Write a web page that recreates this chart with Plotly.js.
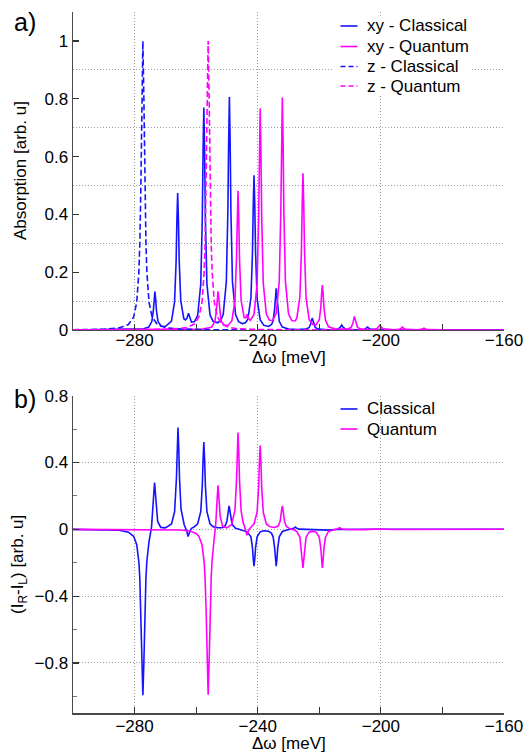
<!DOCTYPE html>
<html>
<head>
<meta charset="utf-8">
<script src="https://cdn.plot.ly/plotly-3.0.1.min.js"></script>
<style>html,body{margin:0;padding:0;background:#fff;}#chart{width:525px;height:754px;}</style>
</head>
<body>
<div id="chart"></div>
<script>
// ---- Panel a) absorption ----
const xyClassicalX = [-300, -285, -280, -277, -275.4, -274.4, -273.9, -273.65, -273.4, -273.15,
  -272.9, -272.4, -271.4, -270, -268, -267, -266.5, -266.25, -266, -265.75,
  -265.5, -265, -264, -263.5, -263, -262.5, -262, -261.5, -260.5, -259.5,
  -258.5, -258, -257.75, -257.5, -257.25, -257, -256.5, -255.5, -254.5, -253,
  -252, -251.2, -250.2, -249.7, -249.45, -249.2, -248.95, -248.7, -248.2, -247.2,
  -246.2, -245, -244, -243.2, -242.2, -241.7, -241.45, -241.2, -240.95, -240.7,
  -240.2, -239.2, -238, -236.5, -235.5, -235, -234.5, -234.25, -234, -233.75,
  -233.5, -233, -232, -230, -227, -224.3, -223.3, -222.8, -222.3, -221.8,
  -221.3, -220.3, -217, -214, -213.2, -212.7, -212.2, -211.4, -208, -205.3,
  -204.8, -204.3, -203.8, -203.3, -195, -160];
const xyClassicalY = [0, 0.001, 0.002, 0.004, 0.010, 0.029, 0.068, 0.107, 0.133, 0.107,
  0.068, 0.030, 0.013, 0.012, 0.031, 0.098, 0.239, 0.380, 0.474, 0.380,
  0.239, 0.101, 0.039, 0.035, 0.040, 0.058, 0.038, 0.027, 0.029, 0.051,
  0.158, 0.388, 0.617, 0.770, 0.617, 0.388, 0.159, 0.052, 0.030, 0.025,
  0.033, 0.054, 0.166, 0.405, 0.645, 0.806, 0.645, 0.406, 0.166, 0.053,
  0.029, 0.022, 0.025, 0.037, 0.111, 0.270, 0.429, 0.535, 0.429, 0.270,
  0.109, 0.035, 0.016, 0.012, 0.019, 0.032, 0.073, 0.115, 0.144, 0.115,
  0.073, 0.030, 0.010, 0.0035, 0.0017, 0.003, 0.0085, 0.0205, 0.041, 0.0205,
  0.0085, 0.0028, 0.001, 0.0025, 0.009, 0.017, 0.009, 0.0025, 0.0007, 0.002,
  0.005, 0.010, 0.005, 0.002, 0.0002, 0];

const xyQuantumX = [-300, -280, -265, -258, -255, -253.9, -253.4, -253.15, -252.9, -252.65,
  -252.4, -251.9, -250.9, -249.5, -248.4, -247.4, -246.9, -246.65, -246.4, -246.15,
  -245.9, -245.4, -244.4, -243.9, -243.4, -242.9, -242.4, -241.2, -240.2, -239.7,
  -239.45, -239.2, -238.95, -238.7, -238.2, -237.2, -236.2, -235.2, -234, -233,
  -232.5, -232.25, -232, -231.75, -231.5, -231, -230, -229, -228.5, -227.8,
  -227.3, -226.3, -225.8, -225.55, -225.3, -225.05, -224.8, -224.3, -223.3, -222,
  -221, -220, -219.5, -219.25, -219, -218.75, -218.5, -218, -217, -215,
  -212, -210.6, -209.6, -209.1, -208.6, -208.1, -207.6, -206.6, -203, -201.3,
  -200.8, -200.3, -199.8, -199.3, -196, -194, -193.5, -193, -192.5, -192,
  -188, -187, -186.5, -186, -185.5, -185, -180, -160];
const xyQuantumY = [0, 0.0004, 0.001, 0.003, 0.0096, 0.029, 0.069, 0.108, 0.134, 0.108,
  0.070, 0.030, 0.016, 0.017, 0.032, 0.100, 0.243, 0.385, 0.482, 0.385,
  0.243, 0.103, 0.043, 0.042, 0.054, 0.039, 0.033, 0.054, 0.160, 0.387,
  0.615, 0.766, 0.615, 0.387, 0.161, 0.055, 0.034, 0.032, 0.057, 0.168,
  0.406, 0.645, 0.804, 0.645, 0.406, 0.168, 0.056, 0.034, 0.031, 0.032,
  0.041, 0.114, 0.274, 0.434, 0.542, 0.434, 0.274, 0.112, 0.036, 0.018,
  0.018, 0.036, 0.080, 0.125, 0.155, 0.125, 0.080, 0.034, 0.011, 0.004,
  0.0024, 0.0035, 0.0097, 0.023, 0.047, 0.023, 0.0097, 0.003, 0.0008, 0.004,
  0.009, 0.017, 0.009, 0.004, 0.0007, 0.002, 0.005, 0.010, 0.005, 0.002,
  0.0004, 0.0012, 0.003, 0.006, 0.003, 0.0012, 0.0002, 0];

const zClassicalX = [-300, -290, -285, -282, -280.3, -279.3, -278.6, -278.3, -277.95, -277.625,
  -277.3, -276.975, -276.65, -276.3, -276, -275.3, -274.3, -272.6, -269.6, -265,
  -255, -240, -160];
const zClassicalY = [0.0008, 0.0026, 0.0071, 0.0188, 0.045, 0.0955, 0.2, 0.297, 0.5, 0.8,
  1.0, 0.8, 0.5, 0.297, 0.2, 0.0955, 0.045, 0.0188, 0.0071, 0.0028,
  0.0008, 0.0003, 0];

const zQuantumX = [-300, -280, -270, -265, -263, -260.6, -259.1, -258.1, -257.4, -257.1,
  -256.75, -256.425, -256.1, -255.775, -255.45, -255.1, -254.8, -254.1, -253.1, -251.6,
  -249.2, -247.2, -242, -230, -160];
const zQuantumY = [0.0002, 0.0007, 0.0022, 0.0053, 0.0088, 0.0204, 0.0448, 0.0955, 0.2, 0.297,
  0.5, 0.8, 1.0, 0.8, 0.5, 0.297, 0.2, 0.0955, 0.0448, 0.0204,
  0.0088, 0.0053, 0.0021, 0.0006, 0];

// ---- Panel b) circular dichroism ----
const cdClassicalX = [-300, -290, -285, -282, -280.3, -279.3, -278.6, -278.3, -277.95, -277.625,
  -277.3, -276.975, -276.65, -276.3, -276, -275.3, -274.5, -274, -273.75, -273.5,
  -273.25, -273, -272.5, -271.5, -270, -268, -267, -266.4, -266.15, -265.9,
  -265.65, -265.4, -264.9, -263.9, -263.1, -262.6, -262.1, -261.6, -260.5, -259.5,
  -258.5, -258, -257.75, -257.5, -257.25, -257, -256.5, -255.5, -254.5, -253,
  -251.5, -250.5, -250, -249.55, -249.3, -249.05, -248.8, -248.3, -247.3, -246,
  -245, -243.5, -242.2, -241.7, -241.45, -241.2, -240.95, -240.7, -240.2, -239.2,
  -238, -236.5, -235.5, -235, -234.5, -234.25, -234, -233.75, -233.5, -233,
  -232, -230.5, -229, -228.3, -227.8, -227.3, -226.5, -224, -220, -218,
  -217.5, -217, -215, -205, -204.3, -203.6, -160];
const cdClassicalY = [-0.0005, -0.002, -0.006, -0.017, -0.042, -0.092, -0.196, -0.293, -0.496, -0.796,
  -0.994, -0.794, -0.49, -0.287, -0.188, -0.072, 0.012, 0.117, 0.215, 0.280,
  0.222, 0.133, 0.047, 0.0115, 0.0085, 0.032, 0.105, 0.306, 0.493, 0.609,
  0.488, 0.305, 0.12, 0.029, -0.009, -0.043, -0.015, 0.004, 0.016, 0.033,
  0.106, 0.262, 0.418, 0.522, 0.418, 0.262, 0.106, 0.033, 0.016, 0.0095,
  0.010, 0.023, 0.049, 0.114, 0.141, 0.113, 0.071, 0.028, 0.008, 0.0015,
  -0.006, -0.015, -0.045, -0.111, -0.177, -0.221, -0.177, -0.111, -0.045, -0.015,
  -0.0086, -0.011, -0.024, -0.045, -0.111, -0.177, -0.221, -0.177, -0.111, -0.045,
  -0.013, -0.004, 0, 0.006, 0.014, 0.006, 0.001, -0.001, -0.002, -0.005,
  -0.008, -0.005, -0.001, 0, 0.004, 0, 0];

const cdQuantumX = [-300, -280, -270, -265, -262, -260, -259.1, -258.1, -257.4, -257.1,
  -256.75, -256.425, -256.1, -255.775, -255.45, -255.1, -254.8, -254.1, -253.6, -253.2,
  -252.9, -252.6, -252.2, -251.4, -250, -248.5, -247.4, -246.9, -246.65, -246.4,
  -246.15, -245.9, -245.4, -244.8, -244.2, -243.8, -243.5, -243.2, -242.8, -242,
  -241.2, -240.2, -239.7, -239.45, -239.2, -238.95, -238.7, -238.2, -237.2, -236,
  -234.5, -233.3, -232.7, -232.25, -232, -231.75, -231.3, -230.7, -229.5, -228,
  -227.3, -226.3, -225.8, -225.55, -225.3, -225.05, -224.8, -224.3, -223.3, -222.2,
  -221, -220, -219.5, -219.25, -219, -218.75, -218.5, -218, -217, -215.5,
  -214.2, -213.4, -212.6, -211, -205, -200.8, -196, -160];
const cdQuantumY = [-0.0002, -0.0005, -0.0014, -0.0042, -0.0105, -0.0243, -0.042, -0.092, -0.195, -0.292,
  -0.494, -0.793, -0.991, -0.79, -0.487, -0.281, -0.179, -0.049, 0.041, 0.176,
  0.264, 0.191, 0.078, 0.017, 0.0087, 0.028, 0.113, 0.287, 0.461, 0.579,
  0.463, 0.289, 0.112, 0.045, 0.012, -0.018, -0.036, -0.022, 0.0002, 0.017,
  0.032, 0.103, 0.253, 0.403, 0.501, 0.401, 0.251, 0.102, 0.032, 0.015,
  0.011, 0.021, 0.049, 0.114, 0.141, 0.113, 0.048, 0.017, 0.003, -0.0053,
  -0.013, -0.046, -0.116, -0.185, -0.231, -0.185, -0.116, -0.047, -0.017, -0.011,
  -0.017, -0.048, -0.117, -0.186, -0.231, -0.185, -0.116, -0.047, -0.013, -0.004,
  0.001, 0.010, 0.001, -0.001, -0.002, 0.002, -0.001, 0];

const topNames = ['xy - Classical', 'xy - Quantum', 'z - Classical', 'z - Quantum'];
const bottomNames = ['Classical', 'Quantum'];

const BLUE = '#1414ff', MAGENTA = '#ff00ff';
const LW = 1.6;
const DASH = '6px,3px';

const traces = [
  {x: xyClassicalX, y: xyClassicalY, name: topNames[0], xaxis: 'x', yaxis: 'y',
   mode: 'lines', line: {color: BLUE, width: LW}},
  {x: xyQuantumX, y: xyQuantumY, name: topNames[1], xaxis: 'x', yaxis: 'y',
   mode: 'lines', line: {color: MAGENTA, width: LW}},
  {x: zClassicalX, y: zClassicalY, name: topNames[2], xaxis: 'x', yaxis: 'y',
   mode: 'lines', line: {color: BLUE, width: LW, dash: DASH}},
  {x: zQuantumX, y: zQuantumY, name: topNames[3], xaxis: 'x', yaxis: 'y',
   mode: 'lines', line: {color: MAGENTA, width: LW, dash: DASH}},
  {x: cdClassicalX, y: cdClassicalY, name: bottomNames[0], xaxis: 'x2', yaxis: 'y2',
   mode: 'lines', line: {color: BLUE, width: LW}},
  {x: cdQuantumX, y: cdQuantumY, name: bottomNames[1], xaxis: 'x2', yaxis: 'y2',
   mode: 'lines', line: {color: MAGENTA, width: LW}}
];

const FONT = 'Liberation Sans, Arial, Helvetica, sans-serif';
const AXC = '#4a4a4a';
const GRIDC = '#9c9c9c';
const GDASH = '1px,2px';
const TXT = {size: 17, color: '#000', family: FONT};

function xAxis(anchor, standoff) {
  return {
    anchor: anchor, domain: [0, 1], range: [-300, -160],
    tickmode: 'linear', tick0: -280, dtick: 40,
    ticks: 'inside', ticklen: 6, tickwidth: 1.2, tickcolor: '#333',
    ticklabelstandoff: standoff,
    showline: true, linecolor: AXC, linewidth: 1.5, mirror: false,
    showgrid: true, gridcolor: GRIDC, gridwidth: 1, griddash: GDASH,
    zeroline: false,
    minor: {tick0: -300, dtick: 20, ticks: 'inside', ticklen: 6, tickwidth: 1.2, tickcolor: '#333', showgrid: false},
    tickfont: TXT
  };
}

// pixel helpers for layout-only placement (plot area: x 73..504, y 12..713)
const px2paperX = p => (p - 73) / 431;
const px2paperY = p => (713 - p) / 701;

// custom legends (layout decorations)
const legendTop = {rows: [26, 46.5, 66.5, 86], traces: [0, 1, 2, 3]};
const legendBottom = {rows: [409, 429], traces: [4, 5]};

const shapes = [
  // white backing behind the top legend (hides gridlines, like the original)
  {type: 'rect', xref: 'paper', yref: 'paper', layer: 'above',
   x0: px2paperX(333), x1: px2paperX(472), y0: px2paperY(96), y1: px2paperY(16),
   fillcolor: '#ffffff', line: {width: 0}}
];
const annotations = [];
[legendTop, legendBottom].forEach(lg => {
  lg.rows.forEach((py, i) => {
    const t = traces[lg.traces[i]];
    shapes.push({type: 'line', xref: 'paper', yref: 'paper', layer: 'above',
      x0: px2paperX(340.5), x1: px2paperX(357.5), y0: px2paperY(py), y1: px2paperY(py),
      line: {color: t.line.color, width: LW, dash: t.line.dash ? '5px,3px' : 'solid'}});
    annotations.push({text: t.name, xref: 'paper', yref: 'paper', x: px2paperX(365), y: px2paperY(py),
      xanchor: 'left', yanchor: 'middle', showarrow: false, font: TXT});
  });
});

// axis titles and panel labels
annotations.push(
  {text: 'Δω [meV]', xref: 'paper', yref: 'paper', x: 0.5, y: px2paperY(357.5), xanchor: 'center', yanchor: 'middle', showarrow: false, font: TXT, borderpad: 0},
  {text: 'Δω [meV]', xref: 'paper', yref: 'paper', x: 0.5, y: px2paperY(743.5), xanchor: 'center', yanchor: 'middle', showarrow: false, font: TXT, borderpad: 0},
  {text: 'Absorption [arb. u]', xref: 'paper', yref: 'paper', x: px2paperX(20), y: px2paperY(171), textangle: -90,
   xanchor: 'center', yanchor: 'middle', showarrow: false, font: TXT},
  {text: '(I<sub>R</sub>-I<sub>L</sub>) [arb. u]', xref: 'paper', yref: 'paper', x: px2paperX(19), y: px2paperY(565), textangle: -90,
   xanchor: 'center', yanchor: 'middle', showarrow: false, font: TXT},
  {text: 'a)', xref: 'paper', yref: 'paper', x: px2paperX(12), y: px2paperY(22), xanchor: 'left', yanchor: 'middle',
   showarrow: false, font: {size: 25, color: '#000', family: FONT}},
  {text: 'b)', xref: 'paper', yref: 'paper', x: px2paperX(12), y: px2paperY(399), xanchor: 'left', yanchor: 'middle',
   showarrow: false, font: {size: 25, color: '#000', family: FONT}}
);

const layout = {
  width: 525, height: 754,
  margin: {l: 73, r: 21, t: 12, b: 41},
  paper_bgcolor: '#fff', plot_bgcolor: '#fff',
  font: {family: FONT, size: 17, color: '#000'},
  showlegend: false,
  xaxis: xAxis('y', -6),
  xaxis2: xAxis('y2', -3),
  yaxis: {
    domain: [0.5464, 1], range: [0, 1.1001], anchor: 'x',
    tickmode: 'linear', tick0: 0, dtick: 0.2,
    ticks: 'inside', ticklen: 6, tickwidth: 1.2, tickcolor: '#333',
    showline: true, linecolor: AXC, linewidth: 1.5,
    showgrid: false, zeroline: false,
    minor: {tick0: 0.1, dtick: 0.2, ticks: '', showgrid: true, gridcolor: GRIDC, gridwidth: 1, griddash: GDASH},
    tickfont: TXT
  },
  yaxis2: {
    domain: [0, 0.4526], range: [-1.1, 0.8], anchor: 'x2',
    tickmode: 'linear', tick0: 0, dtick: 0.4,
    ticks: 'inside', ticklen: 6, tickwidth: 1.2, tickcolor: '#333',
    showline: true, linecolor: AXC, linewidth: 1.5,
    showgrid: true, gridcolor: GRIDC, gridwidth: 1, griddash: GDASH, zeroline: false,
    minor: {tick0: 0, dtick: 0.2, ticks: 'inside', ticklen: 4, tickwidth: 1, tickcolor: '#777', showgrid: false},
    tickfont: TXT
  },
  shapes: shapes,
  annotations: annotations
};

Plotly.newPlot('chart', traces, layout, {displayModeBar: false, staticPlot: true});
</script>
</body>
</html>
